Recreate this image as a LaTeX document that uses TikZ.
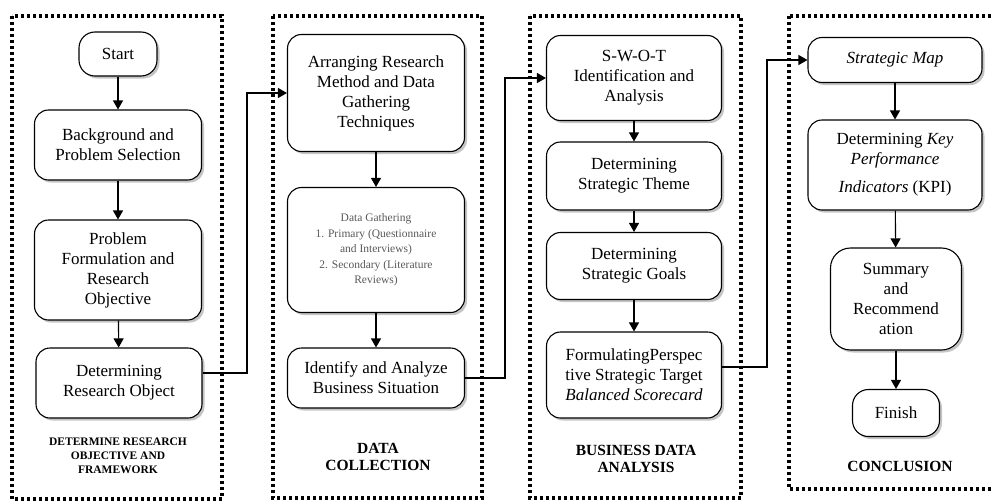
\documentclass[tikz,border=0pt]{standalone}
\usepackage{fontspec}
\setmainfont{Liberation Serif}
\usetikzlibrary{shadows,arrows.meta}
\tikzset{
 box/.style={draw, line width=1.1pt, rounded corners=14pt, fill=white, align=center, inner sep=0pt,
   drop shadow={shadow xshift=2.5pt, shadow yshift=-2.5pt, fill=black!45},
   font=\fontsize{17}{20}\selectfont},
 panel/.style={draw, line width=3.2pt, dash pattern=on 3pt off 3pt},
 arr/.style={-{Triangle[width=10pt,length=9pt]}, line width=1.1pt},
 ttl/.style={font=\bfseries\fontsize{15.5}{17}\selectfont, align=center, inner sep=0pt},
}
\begin{document}
\begin{tikzpicture}[x=1pt,y=-1pt]
\useasboundingbox (0,0) rectangle (992,503);
\clip (0,0) rectangle (992,503);
\fill[white] (0,0) rectangle (992,503);
% panels
\draw[panel] (12,16) rectangle (222,499);
\draw[panel] (273,16) rectangle (482,498);
\draw[panel] (530,16) rectangle (741,498);
\draw[panel] (789,16) rectangle (1005,489);
% panel 1
\node[box, minimum width=78pt, minimum height=44pt, rounded corners=16pt] (start) at (118,54) {Start};
\node[box, minimum width=167pt, minimum height=70pt] (bg) at (118,145) {Background and\\Problem Selection};
\node[box, minimum width=167pt, minimum height=100pt] (pf) at (118,270) {Problem\\Formulation and\\Research\\Objective};
\node[box, minimum width=166pt, minimum height=70pt] (dro) at (119,383) {Determining\\Research Object};
\node[ttl, font=\bfseries\fontsize{11.5}{14}\selectfont] (t1) at (118,456) {DETERMINE RESEARCH\\OBJECTIVE AND\\FRAMEWORK};
\draw[arr] (start) -- (bg);
\draw[arr] (bg) -- (pf);
\draw[arr] (pf) -- (dro);
% panel 2
\node[box, minimum width=177pt, minimum height=117pt] (arm) at (376,93) {Arranging Research\\Method and Data\\Gathering\\Techniques};
\node[box, minimum width=177pt, minimum height=125pt, font=\fontsize{11.5}{15.5}\selectfont, text=black!65] (dg) at (376,250) {Data Gathering\\1. Primary (Questionnaire\\and Interviews)\\2. Secondary (Literature\\Reviews)};
\node[box, minimum width=177pt, minimum height=60pt] (ibs) at (376,378) {Identify and Analyze\\Business Situation};
\node[ttl] (t2) at (378,457) {DATA\\COLLECTION};
\draw[arr] (arm) -- (dg);
\draw[arr] (dg) -- (ibs);
% panel 3
\node[box, minimum width=175pt, minimum height=85pt] (swot) at (634,78) {S-W-O-T\\Identification and\\Analysis};
\node[box, minimum width=175pt, minimum height=68pt] (st) at (634,176) {Determining\\Strategic Theme};
\node[box, minimum width=175pt, minimum height=67pt] (sg) at (634,266) {Determining\\Strategic Goals};
\node[box, minimum width=175pt, minimum height=86pt] (fps) at (634,375) {FormulatingPerspec\\tive Strategic Target\\\textit{Balanced Scorecard}};
\node[ttl] (t3) at (636,459) {BUSINESS DATA\\ANALYSIS};
\draw[arr] (swot) -- (st);
\draw[arr] (st) -- (sg);
\draw[arr] (sg) -- (fps);
% panel 4
\node[box, minimum width=174pt, minimum height=45pt] (sm) at (895,60) {\textit{Strategic Map}};
\node[box, minimum width=174pt, minimum height=90pt] (kpi) at (895,165) {Determining \textit{Key}\\\textit{Performance}\\[8pt]\textit{Indicators} (KPI)};
\node[box, minimum width=131pt, minimum height=102pt, rounded corners=20pt] (sr) at (896,299) {Summary\\and\\Recommend\\ation};
\node[box, minimum width=87pt, minimum height=47pt, rounded corners=16pt] (fin) at (896,413) {Finish};
\node[ttl] (t4) at (900,466) {CONCLUSION};
\draw[arr] (sm) -- (kpi);
\draw[arr] (kpi) -- (sr);
\draw[arr] (sr) -- (fin);
% connectors between panels
\coordinate (c1) at (247,0);
\coordinate (c2) at (505,0);
\coordinate (c3) at (767,0);
\draw[arr] ([yshift=10pt]dro.east) -| (c1 |- arm.west) -- (arm.west);
\draw[arr] (ibs.east) -| (c2 |- swot.west) -- (swot.west);
\draw[arr] ([yshift=8pt]fps.east) -| (c3 |- sm.west) -- (sm.west);
\end{tikzpicture}
\end{document}
